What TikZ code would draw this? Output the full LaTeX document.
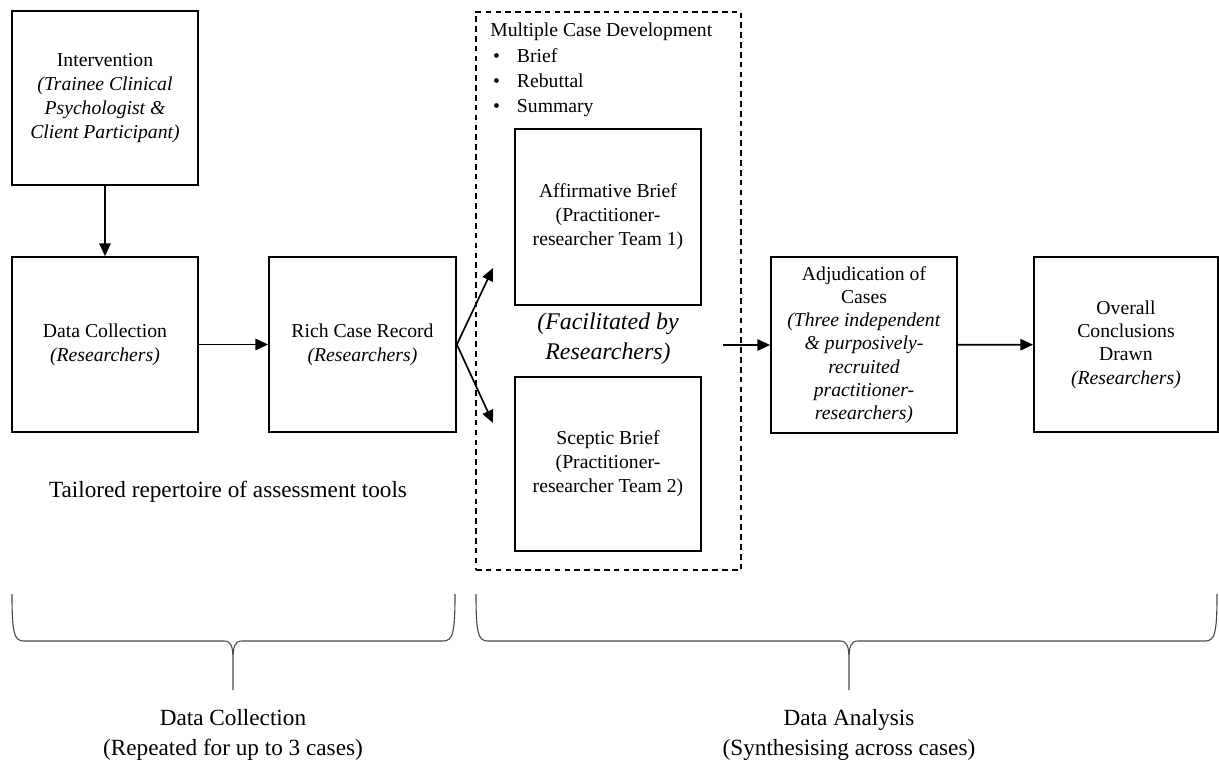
\documentclass[tikz,border=0pt]{standalone}
\usepackage{fontspec}
\setmainfont{Liberation Serif}
\usetikzlibrary{arrows.meta}

\begin{document}
\begin{tikzpicture}[x=0.025cm,y=-0.025cm,
  box/.style={draw,line width=1.2pt,align=center,inner sep=0pt,font=\fontsize{14}{17}\selectfont},
  flow/.style={line width=1.2pt,-{Triangle[length=9pt,width=8pt]}},
  brace/.style={line width=0.8pt,black!70}]
  \useasboundingbox (0,0) rectangle (1219,763);
  % data collection stage
  \node[box,minimum width=4.65cm,minimum height=4.35cm] (interv) at (105,98)
    {Intervention\\\textit{(Trainee Clinical}\\\textit{Psychologist \&}\\\textit{Client Participant)}};
  \node[box,minimum width=4.65cm,minimum height=4.375cm] (dcoll) at (105,344.5)
    {Data Collection\\\textit{(Researchers)}};
  \node[box,minimum width=4.675cm,minimum height=4.375cm] (rich) at (362.5,344.5)
    {Rich Case Record\\\textit{(Researchers)}};
  \node[font=\fontsize{16.5}{19}\selectfont] (tools) at (228,492) {Tailored repertoire of assessment tools};
  % multiple case development
  \node[draw,line width=1pt,dash pattern=on 4pt off 3pt,minimum width=6.625cm,minimum height=13.95cm] (mcd) at (608.5,291) {};
  \node[anchor=north west,align=left,inner sep=0pt,font=\fontsize{14}{18}\selectfont] (mcdlist) at (490,23)
    {Multiple Case Development\\
     \hspace*{2pt}\makebox[17pt][l]{\textbullet}Brief\\
     \hspace*{2pt}\makebox[17pt][l]{\textbullet}Rebuttal\\
     \hspace*{2pt}\makebox[17pt][l]{\textbullet}Summary};
  \node[box,minimum width=4.65cm,minimum height=4.4cm] (affirm) at (608,217)
    {Affirmative Brief\\(Practitioner-\\researcher Team 1)};
  \node[box,minimum width=4.65cm,minimum height=4.35cm] (sceptic) at (608,464)
    {Sceptic Brief\\(Practitioner-\\researcher Team 2)};
  \node[align=center,font=\fontsize{17}{21}\selectfont\itshape] (facil) at (608,339) {(Facilitated by\\Researchers)};
  % adjudication and conclusions
  \node[box,font=\fontsize{14}{16.5}\selectfont,minimum width=4.65cm,minimum height=4.4cm] (adjud) at (864,345)
    {Adjudication of\\Cases\\\textit{(Three independent}\\\textit{\& purposively-}\\\textit{recruited}\\\textit{practitioner-}\\\textit{researchers)}};
  \node[box,font=\fontsize{14}{16.5}\selectfont,minimum width=4.6cm,minimum height=4.375cm] (overall) at (1126,344.5)
    {Overall\\Conclusions\\Drawn\\\textit{(Researchers)}};
  % connectors
  \coordinate (upend) at (493,268);
  \coordinate (downend) at (493,423);
  \coordinate (adjin) at (723,345);
  \draw[flow] (interv) -- (dcoll);
  \draw[flow] (dcoll) -- (rich);
  \draw[flow] (rich.east) -- (upend);
  \draw[flow] (rich.east) -- (downend);
  \draw[flow] (adjin) -- (adjud.west);
  \draw[flow] (adjud) -- (overall);
  % braces
  \draw[brace] (12,594) .. controls (12,633) and (14,641) .. (24,641) -- (224,641)
    .. controls (231,641) and (233,646) .. (233,660) -- (233,690)
    (233,660) .. controls (233,646) and (235,641) .. (242,641) -- (443,641)
    .. controls (453,641) and (455,633) .. (455,594);
  \draw[brace] (476,594) .. controls (476,633) and (478,641) .. (488,641) -- (840,641)
    .. controls (847,641) and (849,646) .. (849,660) -- (849,690)
    (849,660) .. controls (849,646) and (851,641) .. (858,641) -- (1205,641)
    .. controls (1215,641) and (1217,633) .. (1217,594);
  \node[align=center,font=\fontsize{16.5}{21}\selectfont] (dclabel) at (233,735) {Data Collection\\(Repeated for up to 3 cases)};
  \node[align=center,font=\fontsize{16.5}{21}\selectfont] (dalabel) at (849,735) {Data Analysis\\(Synthesising across cases)};
\end{tikzpicture}
\end{document}
